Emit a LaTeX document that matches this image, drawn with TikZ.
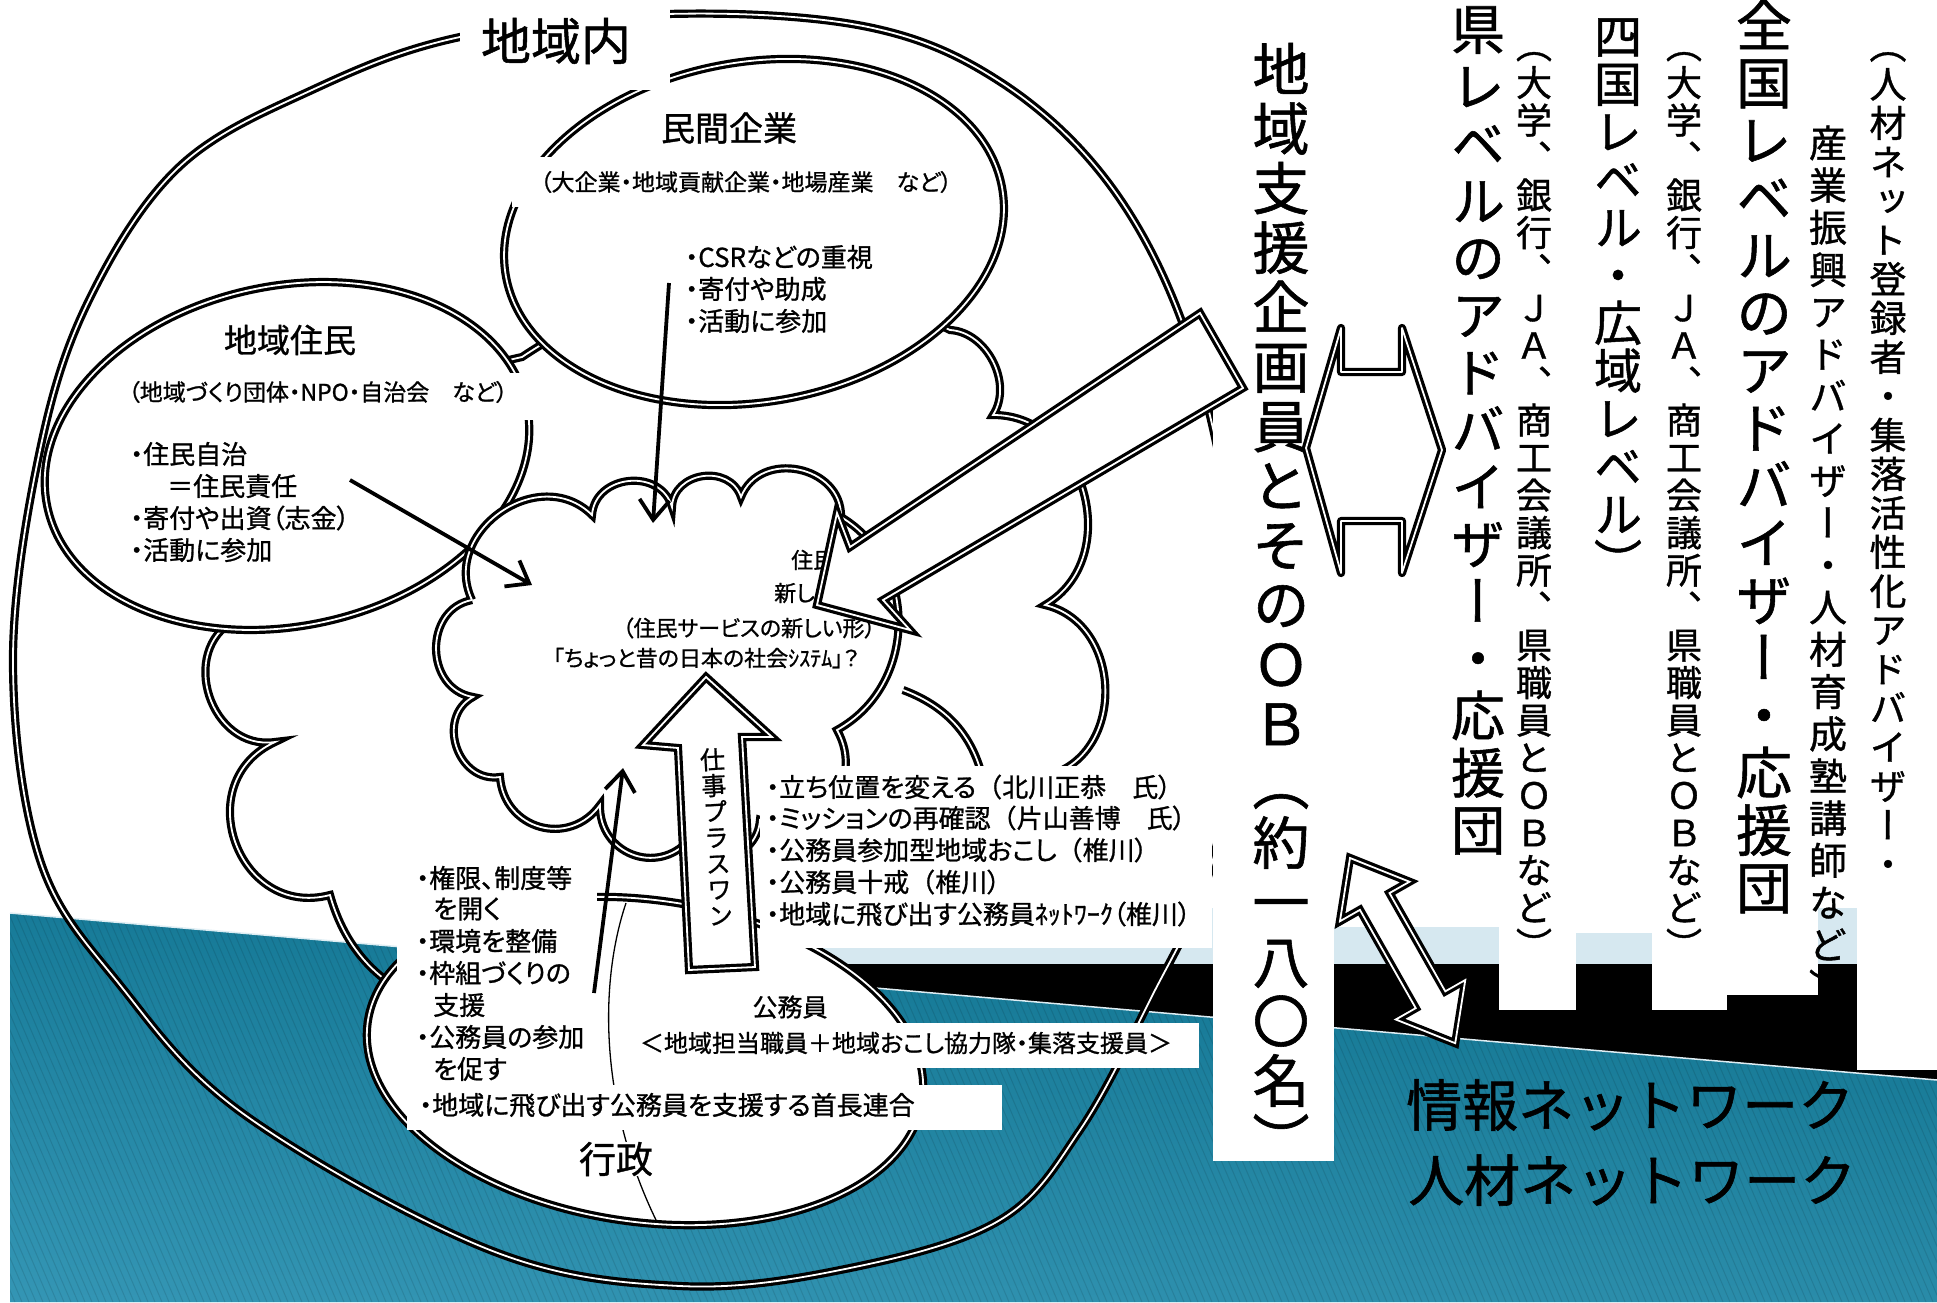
\documentclass[tikz,border=0pt]{standalone}
\usepackage{fontspec}
\setmainfont{Noto Sans CJK JP}
\newfontfamily\jp{Noto Sans CJK JP}[RawFeature={+palt}, FakeBold=1]
\newfontfamily\jpf{Noto Sans CJK JP}[FakeBold=1]
\newfontfamily\vjp{Noto Sans CJK JP}[RawFeature={+vert}, FakeBold=1]
\usetikzlibrary{arrows.meta}
\makeatletter
\newcommand\vtext[2]{\vtop{\baselineskip=#1pt\lineskip=0pt\lineskiplimit=-1000pt\vtext@loop#2\relax}}
\def\vtext@loop#1{\ifx\relax#1\else\hbox to 1em{\hss#1\hss}\expandafter\vtext@loop\fi}
\makeatother
\definecolor{tealA}{RGB}{28,128,158}
\definecolor{tealB}{RGB}{98,192,224}
\definecolor{tealC}{RGB}{12,112,140}
\definecolor{lblue}{RGB}{214,232,240}
\tikzset{
  outl/.style={draw=black, line width=3.2pt, double=white, double distance=1.8pt},
  thinarr/.style={line width=3.8pt, -{Straight Barb[length=20pt,width=30pt]}},
  hx/.style={inner sep=0pt, font=\jp\fontsize{#1}{#1}\selectfont},
  vx/.style={inner sep=0pt, anchor=base, font=\vjp\fontsize{#1}{#1}\selectfont},
  bp/.style={bend left=#1, looseness=1.3},
}
\begin{document}
\begin{tikzpicture}[x=1pt,y=-1pt]
\useasboundingbox (0,0) rectangle (1937,1302);
\fill[white] (0,0) rectangle (1937,1302);
% background bands
\fill[lblue] (760,908) rectangle (1937,964);
\fill[black] (560,964) rectangle (1937,1100);
\begin{scope}
  \clip (10,913) -- (1937,1080) -- (1937,1302) -- (10,1302) -- cycle;
  \shade[left color=tealA, middle color=tealB, right color=tealC] (10,900) rectangle (1937,1302);
  \shade[top color=tealC, bottom color=tealB, opacity=0.35] (10,900) rectangle (1937,1302);
  \foreach \i in {-200,-193,...,1940} {\draw[black, opacity=0.1, line width=1pt] (\i,900) -- ++(173,402);}
\end{scope}
\draw[lblue!80, line width=1.5pt] (10,913) -- (1937,1080);

% big region outline
\draw[outl] plot[smooth cycle, tension=0.6] coordinates {(13,660) (40,450) (89,300) (179,167) (312,90) (460,37) (667,14) (868,27) (1002,83) (1110,185) (1185,330) (1230,520) (1238,700) (1210,870) (1150,1000) (1080,1130) (1000,1220) (850,1268) (680,1286) (490,1250) (245,1115) (120,985) (40,860)};

% outer cloud
\draw[outl] (235,620) to[bend left=30] (522,357) to[bend left=30] (950,330)
  to[bend left=60] (993,415) to[bend left=75, looseness=1.2] (1045,605)
  to[bend left=75, looseness=1.2] (1050,775) -- (900,870) -- (700,1000) -- (470,1010)
  to[bend left=35] (330,895) to[bend left=85, looseness=1.5] (275,742)
  to[bp=80] (235,620);

% residents ellipse
\draw[outl, fill=white, rotate around={12:(287,456)}] (287,456) ellipse [x radius=245, y radius=170];
% companies ellipse
\draw[outl, fill=white, rotate around={10:(754,232)}] (754,232) ellipse [x radius=252, y radius=170];
% administration ellipse
\draw[outl, fill=white, rotate around={-8:(645,1061)}] (645,1061) ellipse [x radius=280, y radius=161];
\draw[line width=1.3pt] (626,903) .. controls (600,980) and (598,1100) .. (656,1220);

% extra bump
\draw[outl] (903,690) to[bend left=30] (985,790);
% inner cloud
\draw[outl, fill=white] (472,600) to[bp=80] (592,515) to[bp=80] (672,507) to[bp=80] (741,497)
  to[bp=80] (841,517) to[bend left=60, looseness=1.1] (837,730) to[bp=70] (760,820)
  to[bp=70] (689,840) to[bp=70] (600,805) to[bp=70] (500,777) to[bp=80] (473,697)
  to[bp=80] (472,600);

% white text boxes
\fill[white] (460,5) rectangle (670,90);
\fill[white] (512,157) rectangle (965,207);
\fill[white] (100,373) rectangle (535,420);
\fill[white] (397,862) rectangle (597,1085);
\fill[white] (407,1085) rectangle (1002,1130);
\fill[white] (637,1023) rectangle (1199,1068);
\fill[white] (760,766) rectangle (1212,948);
\fill[white] (1213,0) rectangle (1334,1161);
\fill[white] (1334,0) rectangle (1499,927);
\fill[white] (1499,0) rectangle (1576,1010);
\fill[white] (1576,0) rectangle (1652,933);
\fill[white] (1652,0) rectangle (1727,1010);
\fill[white] (1727,0) rectangle (1818,995);
\fill[white] (1857,0) rectangle (1937,1070);

% texts
\node[hx=50] (tChiiki) at (556,41) {地域内};
\node[hx=34] (tMinkan) at (729,128) {民間企業};
\node[hx=23] (tMinkanSub) at (746,182) {（大企業・地域貢献企業・地場産業　など）};
\node[hx=26,anchor=west] (tM1) at (685,257) {・CSRなどの重視};
\node[hx=26,anchor=west] (tM2) at (685,289) {・寄付や助成};
\node[hx=26,anchor=west] (tM3) at (685,321) {・活動に参加};
\node[hx=33] (tJumin) at (290,340) {地域住民};
\node[hx=23] (tJuminSub) at (318,392) {（地域づくり団体・NPO・自治会　など）};
\node[hx=26,anchor=west] (tJ1) at (130,454) {・住民自治};
\node[hx=26,anchor=west] (tJ2) at (167,486) {＝住民責任};
\node[hx=26,anchor=west] (tJ3) at (130,518) {・寄付や出資（志金）};
\node[hx=26,anchor=west] (tJ4) at (130,550) {・活動に参加};
\node[hx=22,anchor=west] (tK1) at (791,560) {住民};
\node[hx=22,anchor=west] (tK2) at (774,593) {新し};
\node[hx=22] (tK3) at (749,628) {（住民サービスの新しい形）};
\node[hx=22] (tK4) at (706,658) {「ちょっと昔の日本の社会ｼｽﾃﾑ」？};
\node[hx=26,anchor=west] (tG1) at (416,878) {・権限、制度等};
\node[hx=26,anchor=west] (tG2) at (433,909) {を開く};
\node[hx=26,anchor=west] (tG3) at (416,941) {・環境を整備};
\node[hx=26,anchor=west] (tG4) at (416,973) {・枠組づくりの};
\node[hx=26,anchor=west] (tG5) at (433,1005) {支援};
\node[hx=26,anchor=west] (tG6) at (416,1037) {・公務員の参加};
\node[hx=26,anchor=west] (tG7) at (433,1069) {を促す};
\node[hx=26,anchor=west] (tT1) at (766,787) {・立ち位置を変える{\jpf（}北川正恭　氏）};
\node[hx=26,anchor=west] (tT2) at (766,818) {・ミッションの再確認{\jpf（}片山善博　氏）};
\node[hx=26,anchor=west] (tT3) at (766,850) {・公務員参加型地域おこし{\jpf（}椎川）};
\node[hx=26,anchor=west] (tT4) at (766,882) {・公務員十戒{\jpf（}椎川）};
\node[hx=26,anchor=west] (tT5) at (766,914) {・地域に飛び出す公務員ﾈｯﾄﾜｰｸ（椎川）};
\node[hx=25] (tKo) at (790,1007) {公務員};
\node[hx=24] (tKoSub) at (906,1043) {＜地域担当職員＋地域おこし協力隊・集落支援員＞};
\node[hx=26,anchor=west] (tShu) at (419,1105) {・地域に飛び出す公務員を支援する首長連合};
\node[hx=37, fill=white] (tGyo) at (616,1159) {行政};
\node[hx=56,anchor=west] (tNet1) at (1406,1105) {\jpf 情報ネットワーク};
\node[hx=56,anchor=west] (tNet2) at (1408,1180) {\jpf 人材ネットワーク};

% vertical columns
\node[vx=57] (c1) at (1281,90.7) {\vtext{59.5}{地域支援企画員とそのＯＢ（約一八〇名）}};
\node[vx=54] (c2) at (1478,49.5) {\vtext{57.2}{県レベルのアドバイザー・応援団}};
\node[vx=36] (c3) at (1534,58.7) {\vtext{37.5}{（大学、銀行、ＪＡ、商工会議所、県職員とＯＢなど）}};
\node[vx=48] (c4) at (1618,54.2) {\vtext{47.8}{四国レベル・広域レベル）}};
\node[vx=36] (c5) at (1684,58.7) {\vtext{37.5}{（大学、銀行、ＪＡ、商工会議所、県職員とＯＢなど）}};
\node[vx=56] (c6) at (1764,46.3) {\vtext{57.5}{全国レベルのアドバイザー・応援団}};
\node[vx=38] (c7) at (1828,157.4) {\vtext{42.2}{産業振興アドバイザー・人材育成塾講師など）}};
\node[vx=37] (c8) at (1888,59) {\vtext{39}{（人材ネット登録者・集落活性化アドバイザー・}};

% thin arrows
\coordinate (a1s) at (669,283); \coordinate (a1e) at (653,523);
\coordinate (a2s) at (350,480); \coordinate (a2e) at (532,585);
\coordinate (a3s) at (594,993); \coordinate (a3e) at (623,768);
\draw[thinarr] (a1s) -- (a1e);
\draw[thinarr] (a2s) -- (a2e);
\draw[thinarr] (a3s) -- (a3e);

% block arrows
\draw[outl, fill=white] (817,605) -- (837,513) -- (850,547) -- (1200,313) -- (1243,388) -- (883,600) -- (910,630) -- cycle;
\draw[outl, fill=white] (706,677) -- (772,737) -- (742,737) -- (755,967) -- (689,970) -- (678,748) -- (643,745) -- cycle;
\node[vx=25, rotate=3] (tUp) at (713,769) {\vtext{26}{仕事プラスワン}};
\draw[outl, fill=white, line join=round] (1306,448) -- (1341,328) -- (1341,372) -- (1402,372) -- (1402,328) -- (1442,450) -- (1402,573) -- (1402,521) -- (1341,521) -- (1341,573) -- cycle;
\begin{scope}[shift={(1350,858)}, rotate=-60.4]
  \draw[outl, fill=white] (0,0) -- (50,40) -- (50,17) -- (163,17) -- (163,40) -- (213,0) -- (163,-40) -- (163,-17) -- (50,-17) -- (50,-40) -- cycle;
\end{scope}
\end{tikzpicture}
\end{document}
